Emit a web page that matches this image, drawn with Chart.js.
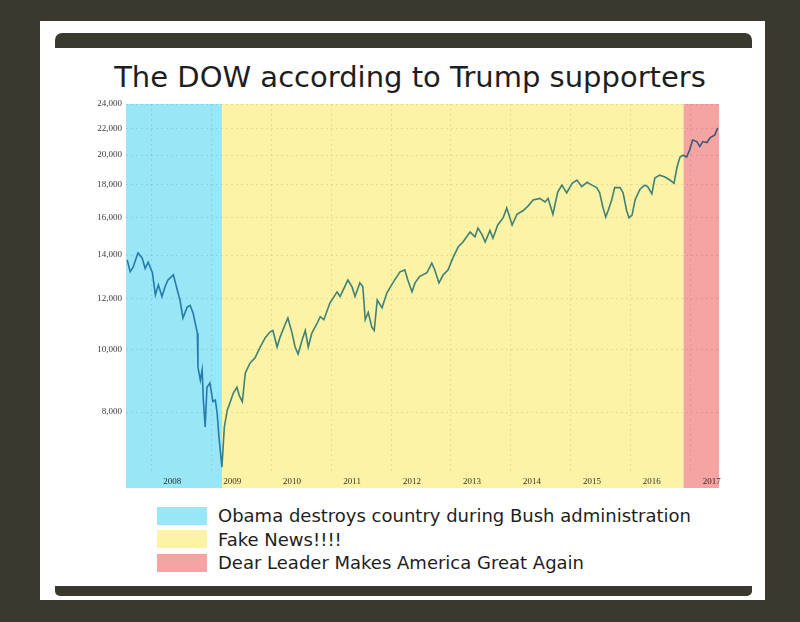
<!DOCTYPE html>
<html>
<head>
<meta charset="utf-8">
<title>The DOW according to Trump supporters</title>
<script src="https://cdn.jsdelivr.net/npm/chart.js@4.4.0/dist/chart.umd.min.js"></script>
<style>
    body { margin: 0; background: #3b392d; width: 800px; height: 622px; overflow: hidden; }
    #card { position: absolute; left: 40px; top: 21px; width: 725px; height: 579px; background: #fff; }
    .bar { position: absolute; left: 15px; width: 697px; background: #3b392d; }
    #topbar { top: 12px; height: 15px; border-radius: 7px 7px 0 0; }
    #botbar { top: 565px; height: 10px; border-radius: 0 0 5px 5px; }
    #title { position: absolute; left: 0; width: 740px; top: 39px; text-align: center; font-family: 'DejaVu Sans', sans-serif; font-size: 29px; line-height: 34px; color: #1e1e1e; }
    #chartBox { position: absolute; left: 15px; top: 27px; width: 697px; height: 440px; }
    #legend { position: absolute; left: 117px; top: 483px; font-family: 'DejaVu Sans', sans-serif; font-size: 18px; color: #1e1e1e; }
    .row { display: flex; align-items: center; height: 23.5px; }
    .sw { width: 50px; height: 18px; margin-right: 11px; }
</style>
</head>
<body>
<div id="card">
    <div class="bar" id="topbar"></div>
    <div id="title">The DOW according to Trump supporters</div>
    <div id="chartBox"><canvas id="dowChart"></canvas></div>
    <div id="legend"></div>
    <div class="bar" id="botbar"></div>
</div>
<script>
// Dow Jones (decimal year, index value)
const dowYears = [
    2007.60, 2007.65, 2007.70, 2007.78, 2007.85, 2007.90, 2007.95, 2008.02, 2008.07, 2008.12,
    2008.18, 2008.23, 2008.28, 2008.37, 2008.42, 2008.48, 2008.53, 2008.60, 2008.65, 2008.70,
    2008.77, 2008.78, 2008.82, 2008.85, 2008.87, 2008.90, 2008.93, 2008.98, 2009.03, 2009.07,
    2009.10, 2009.13, 2009.18, 2009.22, 2009.27, 2009.32, 2009.37, 2009.43, 2009.47, 2009.52,
    2009.57, 2009.65, 2009.73, 2009.82, 2009.90, 2009.98, 2010.03, 2010.10, 2010.15, 2010.23,
    2010.28, 2010.35, 2010.40, 2010.45, 2010.52, 2010.57, 2010.62, 2010.68, 2010.77, 2010.82,
    2010.88, 2010.98, 2011.10, 2011.15, 2011.28, 2011.35, 2011.40, 2011.48, 2011.53, 2011.57,
    2011.62, 2011.68, 2011.72, 2011.77, 2011.85, 2011.93, 2012.03, 2012.15, 2012.23, 2012.28,
    2012.35, 2012.40, 2012.48, 2012.60, 2012.68, 2012.73, 2012.80, 2012.87, 2012.95, 2013.03,
    2013.12, 2013.20, 2013.32, 2013.40, 2013.45, 2013.52, 2013.57, 2013.65, 2013.70, 2013.78,
    2013.87, 2013.93, 2014.02, 2014.10, 2014.20, 2014.28, 2014.37, 2014.48, 2014.57, 2014.62,
    2014.70, 2014.78, 2014.85, 2014.93, 2015.02, 2015.10, 2015.18, 2015.27, 2015.35, 2015.43,
    2015.48, 2015.53, 2015.58, 2015.62, 2015.68, 2015.73, 2015.82, 2015.87, 2015.93, 2015.97,
    2016.02, 2016.07, 2016.15, 2016.23, 2016.28, 2016.35, 2016.40, 2016.48, 2016.57, 2016.65,
    2016.72, 2016.77, 2016.82, 2016.87, 2016.93, 2016.98, 2017.03, 2017.10, 2017.15, 2017.20,
    2017.27, 2017.32, 2017.40, 2017.45
];
const dowValues = [
    13760, 13190, 13420, 14110, 13850, 13350, 13650, 13150, 12150, 12590,
    12080, 12500, 12810, 13050, 12520, 11930, 11190, 11630, 11700, 11380,
    10600, 9390, 8965, 9300, 8350, 7585, 8740, 8870, 8300, 8350,
    7970, 7320, 6575, 7585, 8060, 8300, 8560, 8740, 8480, 8300,
    9200, 9530, 9700, 10090, 10420, 10640, 10700, 10090, 10450, 10910,
    11190, 10600, 10090, 9840, 10360, 10700, 10090, 10600, 10990, 11240,
    11120, 11800, 12280, 12080, 12810, 12500, 12080, 12680, 12520, 11120,
    11420, 10830, 10700, 11930, 11600, 12230, 12680, 13190, 13280, 12810,
    12280, 12680, 12980, 13150, 13610, 13280, 12680, 13050, 13280, 13850,
    14410, 14670, 15200, 14950, 15420, 15050, 14670, 15290, 14870, 15590,
    15990, 16560, 15590, 16200, 16400, 16660, 17040, 17140, 16920, 17140,
    16200, 17530, 17970, 17480, 18090, 18300, 17870, 18150, 17970, 17810,
    17480, 16660, 16040, 16400, 17040, 17810, 17810, 17480, 16400, 15990,
    16150, 17040, 17700, 17970, 17870, 17420, 18430, 18620, 18500, 18300,
    18090, 19170, 19870, 19990, 19870, 20370, 21110, 20990, 20620, 20990,
    20920, 21270, 21500, 22040
];

const yTicks = [8000, 10000, 12000, 14000, 16000, 18000, 20000, 22000, 24000];
const xTicks = [2008, 2009, 2010, 2011, 2012, 2013, 2014, 2015, 2016, 2017];

// coloured periods behind the line
const bandLabels = [
    'Obama destroys country during Bush administration',
    'Fake News!!!!',
    'Dear Leader Makes America Great Again'
];
const bandFrom = [2007.58, 2009.18, 2016.88];
const bandTo = [2009.18, 2016.88, 2017.47];
const bandColors = ['#98e6f6', '#fcf3a6', '#f4a4a2'];

// legend
const legend = document.getElementById('legend');
bandLabels.forEach((txt, i) => {
    const row = document.createElement('div');
    row.className = 'row';
    row.innerHTML = '<div class="sw" style="background:' + bandColors[i] + '"></div><span>' + txt + '</span>';
    legend.appendChild(row);
});

// bands are multiplied over the line so it takes their tint
const bandPlugin = {
    id: 'bands',
    afterDatasetsDraw(chart) {
        const ctx = chart.ctx;
        const x = chart.scales.x;
        const top = chart.chartArea.top;
        const bottom = x.bottom;
        ctx.save();
        ctx.globalCompositeOperation = 'multiply';
        for (let i = 0; i < bandFrom.length; i++) {
            const x1 = x.getPixelForValue(bandFrom[i]);
            const x2 = x.getPixelForValue(bandTo[i]);
            ctx.fillStyle = bandColors[i];
            ctx.fillRect(x1, top, x2 - x1, bottom - top);
        }
        ctx.restore();
    }
};

const points = dowYears.map((t, i) => ({ x: t, y: dowValues[i] }));

new Chart(document.getElementById('dowChart'), {
    type: 'line',
    data: {
        datasets: [{
            label: 'DOW',
            data: points,
            borderColor: '#4088b4',
            borderWidth: 1.6,
            pointRadius: 0,
            tension: 0
        }]
    },
    options: {
        responsive: true,
        maintainAspectRatio: false,
        animation: false,
        layout: { padding: { top: 56, right: 33 } },
        plugins: {
            legend: { display: false },
            tooltip: { enabled: false }
        },
        scales: {
            x: {
                type: 'linear',
                min: 2007.58,
                max: 2017.47,
                afterBuildTicks: (axis) => { axis.ticks = xTicks.map(v => ({ value: v })); },
                afterFit: (axis) => { axis.height = 16; },
                grid: { color: 'rgba(0,0,0,0.09)', drawTicks: false },
                border: { display: false, dash: [2, 3] },
                ticks: {
                    autoSkip: false,
                    maxRotation: 0,
                    padding: 4,
                    labelOffset: 21,
                    color: '#3a3a3a',
                    font: { family: 'Liberation Serif', size: 9 },
                    callback: (v) => String(v)
                }
            },
            y: {
                type: 'logarithmic',
                min: 6460,
                max: 24000,
                afterBuildTicks: (axis) => { axis.ticks = yTicks.map(v => ({ value: v })); },
                afterFit: (axis) => { axis.width = 71; },
                grid: { color: 'rgba(0,0,0,0.09)', drawTicks: false },
                border: { display: false, dash: [2, 3] },
                ticks: {
                    padding: 4,
                    color: '#3a3a3a',
                    font: { family: 'Liberation Serif', size: 9 },
                    callback: (v) => v.toLocaleString('en-US')
                }
            }
        }
    },
    plugins: [bandPlugin]
});
</script>
</body>
</html>
